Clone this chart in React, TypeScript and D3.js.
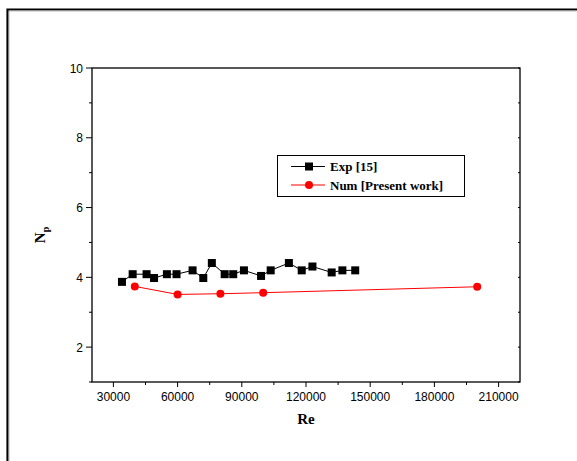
import React from "react";
import * as d3 from "d3";

const expRe = [34000, 39000, 45500, 49000, 55000, 59500, 67000, 72000, 76000, 82000, 86000, 91000, 99000, 103500, 112000, 118000, 123000, 132000, 137000, 143000];
const expNp = [3.87, 4.09, 4.09, 3.98, 4.09, 4.09, 4.2, 3.98, 4.41, 4.09, 4.09, 4.2, 4.04, 4.2, 4.41, 4.2, 4.31, 4.14, 4.2, 4.2];
const numRe = [40000, 60000, 80000, 100000, 200000];
const numNp = [3.74, 3.51, 3.53, 3.56, 3.73];
const xTicks = [30000, 60000, 90000, 120000, 150000, 180000, 210000];
const xMinor = [45000, 75000, 105000, 135000, 165000, 195000];
const yTicks = [2, 4, 6, 8, 10];
const yMinor = [1, 3, 5, 7, 9];
const seriesNames = ["Exp [15]", "Num [Present work]"];

export default function App() {
  const W = 577, H = 461;
  const L = 92, R = 520, T = 68, B = 382;
  const x = d3.scaleLinear().domain([20000, 220000]).range([L, R]);
  const y = d3.scaleLinear().domain([1, 10]).range([B, T]);
  const line = d3.line<[number, number]>().x(d => x(d[0])).y(d => y(d[1]));
  const expPts: [number, number][] = expRe.map((r, i) => [r, expNp[i]]);
  const numPts: [number, number][] = numRe.map((r, i) => [r, numNp[i]]);
  const sans = "'Liberation Sans', Arial, sans-serif";
  const serif = "'Liberation Serif', 'Times New Roman', serif";
  return (
    <svg width={W} height={H} style={{ position: "absolute", left: 0, top: 0 }}>
      <rect x={0} y={0} width={W} height={H} fill="#fff" />
      <path d={`M7.5,${H + 5} V9.5 H${W + 5}`} fill="none" stroke="#000" strokeWidth={2.2} />
      <path d={`M9,${H + 5} V11 H${W + 5}`} fill="none" stroke="#aaa" strokeWidth={0.8} />
      {/* plot frame */}
      <rect x={L} y={T} width={R - L} height={B - T} fill="none" stroke="#000" strokeWidth={1.3} />
      {/* x ticks */}
      {xTicks.map(t => (
        <g key={"xt" + t}>
          <line x1={x(t)} x2={x(t)} y1={B} y2={B + 5} stroke="#000" strokeWidth={1} />
          <text x={x(t)} y={B + 19} textAnchor="middle" fontFamily={sans} fontSize={12}>{t}</text>
        </g>
      ))}
      {xMinor.map(t => (
        <line key={"xm" + t} x1={x(t)} x2={x(t)} y1={B} y2={B + 3} stroke="#000" strokeWidth={1} />
      ))}
      {/* y ticks */}
      {yTicks.map(t => (
        <g key={"yt" + t}>
          <line x1={L - 6} x2={L} y1={y(t)} y2={y(t)} stroke="#000" strokeWidth={1} />
          <line x1={R - 2} x2={R} y1={y(t)} y2={y(t)} stroke="#000" strokeWidth={1} />
          <text x={L - 9} y={y(t) + 4.5} textAnchor="end" fontFamily={sans} fontSize={12}>{t}</text>
        </g>
      ))}
      {yMinor.map(t => (
        <g key={"ym" + t}>
          <line x1={L - 3} x2={L} y1={y(t)} y2={y(t)} stroke="#000" strokeWidth={1} />
          <line x1={R - 2} x2={R} y1={y(t)} y2={y(t)} stroke="#000" strokeWidth={1} />
        </g>
      ))}
      {/* axis labels */}
      <text x={(L + R) / 2} y={B + 42} textAnchor="middle" fontFamily={serif} fontWeight="bold" fontSize={15}>Re</text>
      <text transform={`translate(45,${(T + B) / 2 + 10}) rotate(-90)`} textAnchor="middle" fontFamily={serif} fontWeight="bold" fontSize={15}>
        N<tspan fontSize={10} dy={4}>p</tspan>
      </text>
      {/* series */}
      <path d={line(expPts) || ""} fill="none" stroke="#000" strokeWidth={1} />
      {expPts.map((p, i) => (
        <rect key={"e" + i} x={x(p[0]) - 4} y={y(p[1]) - 4} width={8} height={8} fill="#000" />
      ))}
      <path d={line(numPts) || ""} fill="none" stroke="#f00" strokeWidth={1} />
      {numPts.map((p, i) => (
        <circle key={"n" + i} cx={x(p[0])} cy={y(p[1])} r={4} fill="#f00" />
      ))}
      {/* legend */}
      <rect x={277.5} y={155.5} width={187} height={41} fill="#fff" stroke="#000" strokeWidth={1} />
      <line x1={291} x2={325} y1={166.5} y2={166.5} stroke="#000" strokeWidth={1} />
      <rect x={305} y={162.5} width={8} height={8} fill="#000" />
      <text x={330} y={171} fontFamily={serif} fontWeight="bold" fontSize={13}>{seriesNames[0]}</text>
      <line x1={291} x2={325} y1={185} y2={185} stroke="#f00" strokeWidth={1} />
      <circle cx={309} cy={185} r={4} fill="#f00" />
      <text x={330} y={189.5} fontFamily={serif} fontWeight="bold" fontSize={13}>{seriesNames[1]}</text>
    </svg>
  );
}
